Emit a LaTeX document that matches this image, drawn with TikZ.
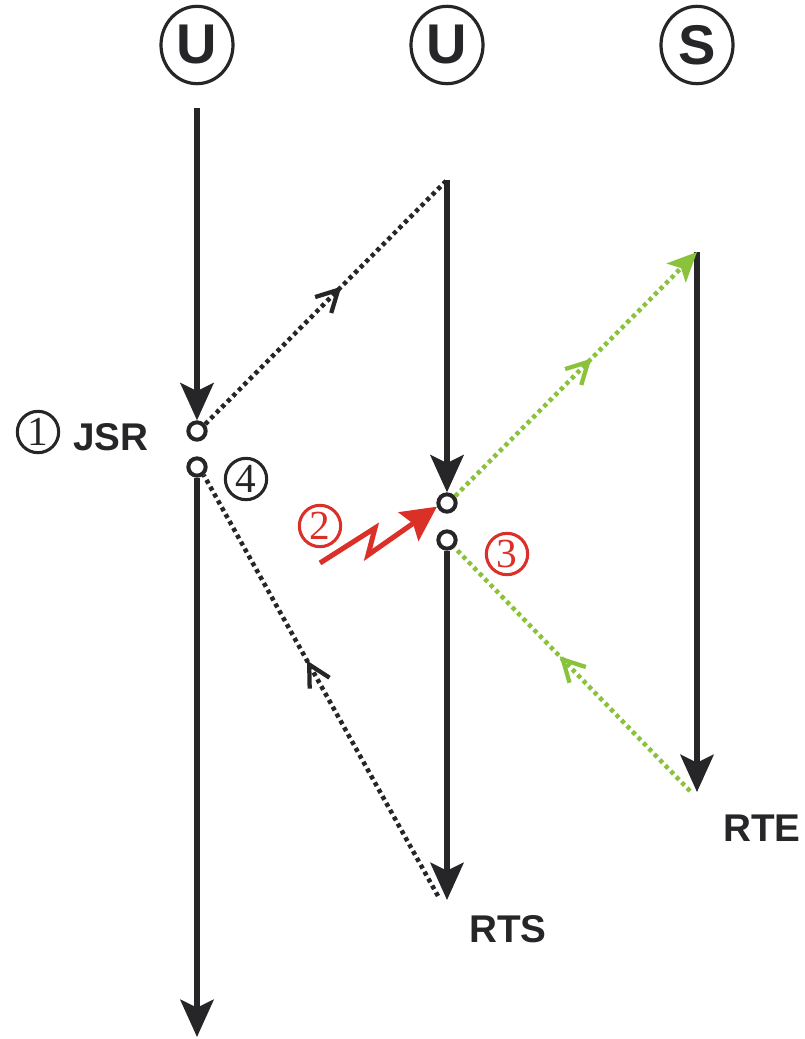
\documentclass[tikz,border=0pt]{standalone}
\usepackage{fontspec}
\setmainfont{Liberation Sans}
\newfontfamily\numfont{Liberation Serif}
\usetikzlibrary{arrows.meta, shapes.geometric}

\definecolor{linegray}{RGB}{38,38,40}
\definecolor{leafgreen}{RGB}{138,194,60}
\definecolor{alertred}{RGB}{218,48,40}

\tikzset{
  lifeline/.style={line width=3.8pt, draw=linegray, -{Stealth[length=28pt,width=25pt,inset=6pt]}},
  port/.style={circle, draw=linegray, line width=3pt, fill=white, minimum size=13pt, inner sep=0pt},
  party/.style={ellipse, draw=linegray, line width=2.4pt, minimum width=54pt, minimum height=58pt,
    inner sep=0pt, text=linegray, font=\bfseries\fontsize{42}{42}\selectfont},
  msg/.style={line width=3.4pt, dash pattern=on 3.1pt off 2.8pt},
  chevron/.pic={\draw[solid, -, line width=3.2pt, line cap=butt, line join=miter]
      (-16pt,-8.5pt) -- (0pt,0pt) -- (-16pt,8.5pt);},
  midmark/.style={pos=#1, sloped, allow upside down},
  stepnum/.style={circle, draw, line width=2.3pt, minimum size=31pt, inner sep=0pt,
    font=\numfont\fontsize{31}{31}\selectfont},
  tag/.style={text=linegray, font=\bfseries\fontsize{29}{29}\selectfont}
}

\begin{document}
\begin{tikzpicture}[x=0.75pt, y=-0.75pt]
    \useasboundingbox (0,0) rectangle (804,1039);

    % 参与者
    \node[party] (u1) at (197,45) {U};
    \node[party] (u2) at (447,45) {U};
    \node[party] (s3) at (697,45) {S};

    % 端口
    \node[port] (c1a) at (197,431) {};
    \node[port] (c1b) at (197,467) {};
    \node[port] (c2a) at (447,503) {};
    \node[port] (c2b) at (447,540) {};

    \coordinate (top1) at (197,108);
    \coordinate (bot1) at (197,1037);
    \coordinate (top2) at (447,180);
    \coordinate (bot2) at (447,900);
    \coordinate (top3) at (697,252);
    \coordinate (bot3) at (697,792);
    \coordinate (g3) at (690,791);
    \coordinate (k2) at (438,896);

    % 时间线
    \draw[lifeline] (top1) -- (c1a);
    \draw[lifeline] (c1b) -- (bot1);
    \draw[lifeline] (top2) -- (c2a);
    \draw[lifeline] (c2b) -- (bot2);
    \draw[lifeline] (top3) -- (bot3);

    % 消息 - 点线
    \draw[msg, draw=linegray] (c1a.40) -- pic[midmark=0.55, linegray] {chevron} (top2);
    \draw[msg, draw=linegray] (k2) -- pic[midmark=0.55, linegray] {chevron} (c1b.-50);
    \draw[msg, draw=leafgreen, -{Stealth[length=22pt,width=20pt,inset=5pt]}]
      (c2a.40) -- pic[midmark=0.55, leafgreen] {chevron} (top3);
    \draw[msg, draw=leafgreen] (g3) -- pic[midmark=0.54, leafgreen] {chevron} (c2b.-45);

    % 中断
    \coordinate (z0) at (320,563);
    \coordinate (z1) at (375,528);
    \coordinate (z2) at (368,555);
    \draw[alertred, line width=3.8pt, line join=miter,
      -{Stealth[length=26pt,width=26pt,inset=4pt]}] (z0) -- (z1) -- (z2) -- (c2a.200);

    % 标签
    \node[stepnum, linegray] (n1) at (38,432) {1};
    \node[tag] (jsr) at (111,437) {JSR};
    \node[stepnum, linegray] (n4) at (246,479) {4};
    \node[stepnum, alertred] (n2) at (320,526) {2};
    \node[stepnum, alertred] (n3) at (507,554) {3};
    \node[tag] (rts) at (508,929) {RTS};
    \node[tag] (rte) at (762,828) {RTE};
\end{tikzpicture}
\end{document}
